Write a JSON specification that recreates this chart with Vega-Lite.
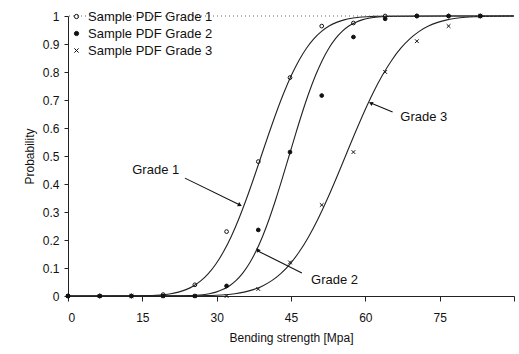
{
  "$schema": "https://vega.github.io/schema/vega-lite/v6.json",
  "width": 446,
  "height": 280,
  "autosize": {"type": "none"},
  "padding": {"left": 68, "top": 16, "right": 5, "bottom": 58},
  "background": "white",
  "config": {
    "view": {"stroke": null},
    "font": "Liberation Sans",
    "axis": {"grid": false, "domainColor": "#222", "tickColor": "#222", "labelColor": "#111", "titleColor": "#111", "labelFont": "Liberation Sans", "titleFont": "Liberation Sans", "labelFontSize": 12, "titleFontSize": 12, "titleFontWeight": "normal", "tickSize": 4, "domainWidth": 1, "labelOverlap": false},
    "legend": {"labelFont": "Liberation Sans", "labelFontSize": 13, "labelColor": "#111"}
  },
  "datasets": {
    "curves": [
      {"series": "Grade 1", "x": 0, "p": 0},
      {"series": "Grade 1", "x": 14.68, "p": 0.0007},
      {"series": "Grade 1", "x": 16.2, "p": 0.0013},
      {"series": "Grade 1", "x": 17.72, "p": 0.0026},
      {"series": "Grade 1", "x": 19.24, "p": 0.0047},
      {"series": "Grade 1", "x": 20.76, "p": 0.0082},
      {"series": "Grade 1", "x": 22.28, "p": 0.0139},
      {"series": "Grade 1", "x": 23.8, "p": 0.0228},
      {"series": "Grade 1", "x": 25.32, "p": 0.0359},
      {"series": "Grade 1", "x": 26.84, "p": 0.0548},
      {"series": "Grade 1", "x": 28.36, "p": 0.0808},
      {"series": "Grade 1", "x": 29.88, "p": 0.1151},
      {"series": "Grade 1", "x": 31.4, "p": 0.1587},
      {"series": "Grade 1", "x": 32.92, "p": 0.2119},
      {"series": "Grade 1", "x": 34.44, "p": 0.2743},
      {"series": "Grade 1", "x": 35.96, "p": 0.3446},
      {"series": "Grade 1", "x": 37.48, "p": 0.4207},
      {"series": "Grade 1", "x": 39, "p": 0.5},
      {"series": "Grade 1", "x": 40.52, "p": 0.5793},
      {"series": "Grade 1", "x": 42.04, "p": 0.6554},
      {"series": "Grade 1", "x": 43.56, "p": 0.7257},
      {"series": "Grade 1", "x": 45.08, "p": 0.7881},
      {"series": "Grade 1", "x": 46.6, "p": 0.8413},
      {"series": "Grade 1", "x": 48.12, "p": 0.8849},
      {"series": "Grade 1", "x": 49.64, "p": 0.9192},
      {"series": "Grade 1", "x": 51.16, "p": 0.9452},
      {"series": "Grade 1", "x": 52.68, "p": 0.9641},
      {"series": "Grade 1", "x": 54.2, "p": 0.9772},
      {"series": "Grade 1", "x": 55.72, "p": 0.9861},
      {"series": "Grade 1", "x": 57.24, "p": 0.9918},
      {"series": "Grade 1", "x": 58.76, "p": 0.9953},
      {"series": "Grade 1", "x": 60.28, "p": 0.9974},
      {"series": "Grade 1", "x": 61.8, "p": 0.9987},
      {"series": "Grade 1", "x": 63.32, "p": 0.9993},
      {"series": "Grade 1", "x": 90, "p": 1},
      {"series": "Grade 2", "x": 0, "p": 0},
      {"series": "Grade 2", "x": 23.16, "p": 0.0007},
      {"series": "Grade 2", "x": 24.5, "p": 0.0013},
      {"series": "Grade 2", "x": 25.84, "p": 0.0026},
      {"series": "Grade 2", "x": 27.18, "p": 0.0047},
      {"series": "Grade 2", "x": 28.52, "p": 0.0082},
      {"series": "Grade 2", "x": 29.86, "p": 0.0139},
      {"series": "Grade 2", "x": 31.2, "p": 0.0228},
      {"series": "Grade 2", "x": 32.54, "p": 0.0359},
      {"series": "Grade 2", "x": 33.88, "p": 0.0548},
      {"series": "Grade 2", "x": 35.22, "p": 0.0808},
      {"series": "Grade 2", "x": 36.56, "p": 0.1151},
      {"series": "Grade 2", "x": 37.9, "p": 0.1587},
      {"series": "Grade 2", "x": 39.24, "p": 0.2119},
      {"series": "Grade 2", "x": 40.58, "p": 0.2743},
      {"series": "Grade 2", "x": 41.92, "p": 0.3446},
      {"series": "Grade 2", "x": 43.26, "p": 0.4207},
      {"series": "Grade 2", "x": 44.6, "p": 0.5},
      {"series": "Grade 2", "x": 45.94, "p": 0.5793},
      {"series": "Grade 2", "x": 47.28, "p": 0.6554},
      {"series": "Grade 2", "x": 48.62, "p": 0.7257},
      {"series": "Grade 2", "x": 49.96, "p": 0.7881},
      {"series": "Grade 2", "x": 51.3, "p": 0.8413},
      {"series": "Grade 2", "x": 52.64, "p": 0.8849},
      {"series": "Grade 2", "x": 53.98, "p": 0.9192},
      {"series": "Grade 2", "x": 55.32, "p": 0.9452},
      {"series": "Grade 2", "x": 56.66, "p": 0.9641},
      {"series": "Grade 2", "x": 58, "p": 0.9772},
      {"series": "Grade 2", "x": 59.34, "p": 0.9861},
      {"series": "Grade 2", "x": 60.68, "p": 0.9918},
      {"series": "Grade 2", "x": 62.02, "p": 0.9953},
      {"series": "Grade 2", "x": 63.36, "p": 0.9974},
      {"series": "Grade 2", "x": 64.7, "p": 0.9987},
      {"series": "Grade 2", "x": 66.04, "p": 0.9993},
      {"series": "Grade 2", "x": 90, "p": 1},
      {"series": "Grade 3", "x": 0, "p": 0},
      {"series": "Grade 3", "x": 26.24, "p": 0.0007},
      {"series": "Grade 3", "x": 28.1, "p": 0.0013},
      {"series": "Grade 3", "x": 29.96, "p": 0.0026},
      {"series": "Grade 3", "x": 31.82, "p": 0.0047},
      {"series": "Grade 3", "x": 33.68, "p": 0.0082},
      {"series": "Grade 3", "x": 35.54, "p": 0.0139},
      {"series": "Grade 3", "x": 37.4, "p": 0.0228},
      {"series": "Grade 3", "x": 39.26, "p": 0.0359},
      {"series": "Grade 3", "x": 41.12, "p": 0.0548},
      {"series": "Grade 3", "x": 42.98, "p": 0.0808},
      {"series": "Grade 3", "x": 44.84, "p": 0.1151},
      {"series": "Grade 3", "x": 46.7, "p": 0.1587},
      {"series": "Grade 3", "x": 48.56, "p": 0.2119},
      {"series": "Grade 3", "x": 50.42, "p": 0.2743},
      {"series": "Grade 3", "x": 52.28, "p": 0.3446},
      {"series": "Grade 3", "x": 54.14, "p": 0.4207},
      {"series": "Grade 3", "x": 56, "p": 0.5},
      {"series": "Grade 3", "x": 57.86, "p": 0.5793},
      {"series": "Grade 3", "x": 59.72, "p": 0.6554},
      {"series": "Grade 3", "x": 61.58, "p": 0.7257},
      {"series": "Grade 3", "x": 63.44, "p": 0.7881},
      {"series": "Grade 3", "x": 65.3, "p": 0.8413},
      {"series": "Grade 3", "x": 67.16, "p": 0.8849},
      {"series": "Grade 3", "x": 69.02, "p": 0.9192},
      {"series": "Grade 3", "x": 70.88, "p": 0.9452},
      {"series": "Grade 3", "x": 72.74, "p": 0.9641},
      {"series": "Grade 3", "x": 74.6, "p": 0.9772},
      {"series": "Grade 3", "x": 76.46, "p": 0.9861},
      {"series": "Grade 3", "x": 78.32, "p": 0.9918},
      {"series": "Grade 3", "x": 80.18, "p": 0.9953},
      {"series": "Grade 3", "x": 82.04, "p": 0.9974},
      {"series": "Grade 3", "x": 83.9, "p": 0.9987},
      {"series": "Grade 3", "x": 85.76, "p": 0.9993},
      {"series": "Grade 3", "x": 90, "p": 1}
    ],
    "samples": [
      {"series": "Sample PDF Grade 1", "x": 0, "p": 0},
      {"series": "Sample PDF Grade 1", "x": 6.4, "p": 0},
      {"series": "Sample PDF Grade 1", "x": 12.8, "p": 0},
      {"series": "Sample PDF Grade 1", "x": 19.2, "p": 0.005},
      {"series": "Sample PDF Grade 1", "x": 25.6, "p": 0.04},
      {"series": "Sample PDF Grade 1", "x": 32, "p": 0.23},
      {"series": "Sample PDF Grade 1", "x": 38.4, "p": 0.48},
      {"series": "Sample PDF Grade 1", "x": 44.8, "p": 0.78},
      {"series": "Sample PDF Grade 1", "x": 51.2, "p": 0.964},
      {"series": "Sample PDF Grade 1", "x": 57.6, "p": 0.975},
      {"series": "Sample PDF Grade 1", "x": 64, "p": 1},
      {"series": "Sample PDF Grade 1", "x": 70.4, "p": 1},
      {"series": "Sample PDF Grade 1", "x": 76.8, "p": 1},
      {"series": "Sample PDF Grade 1", "x": 83.2, "p": 1},
      {"series": "Sample PDF Grade 2", "x": 0, "p": 0},
      {"series": "Sample PDF Grade 2", "x": 6.4, "p": 0},
      {"series": "Sample PDF Grade 2", "x": 12.8, "p": 0},
      {"series": "Sample PDF Grade 2", "x": 19.2, "p": 0},
      {"series": "Sample PDF Grade 2", "x": 25.6, "p": 0},
      {"series": "Sample PDF Grade 2", "x": 32, "p": 0.036},
      {"series": "Sample PDF Grade 2", "x": 38.4, "p": 0.236},
      {"series": "Sample PDF Grade 2", "x": 44.8, "p": 0.514},
      {"series": "Sample PDF Grade 2", "x": 51.2, "p": 0.716},
      {"series": "Sample PDF Grade 2", "x": 57.6, "p": 0.925},
      {"series": "Sample PDF Grade 2", "x": 64, "p": 0.99},
      {"series": "Sample PDF Grade 2", "x": 70.4, "p": 1},
      {"series": "Sample PDF Grade 2", "x": 76.8, "p": 1},
      {"series": "Sample PDF Grade 2", "x": 83.2, "p": 1},
      {"series": "Sample PDF Grade 3", "x": 0, "p": 0},
      {"series": "Sample PDF Grade 3", "x": 6.4, "p": 0},
      {"series": "Sample PDF Grade 3", "x": 12.8, "p": 0},
      {"series": "Sample PDF Grade 3", "x": 19.2, "p": 0},
      {"series": "Sample PDF Grade 3", "x": 25.6, "p": 0},
      {"series": "Sample PDF Grade 3", "x": 32, "p": 0},
      {"series": "Sample PDF Grade 3", "x": 38.4, "p": 0.025},
      {"series": "Sample PDF Grade 3", "x": 44.8, "p": 0.12},
      {"series": "Sample PDF Grade 3", "x": 51.2, "p": 0.325},
      {"series": "Sample PDF Grade 3", "x": 57.6, "p": 0.514},
      {"series": "Sample PDF Grade 3", "x": 64, "p": 0.8},
      {"series": "Sample PDF Grade 3", "x": 70.4, "p": 0.91},
      {"series": "Sample PDF Grade 3", "x": 76.8, "p": 0.964},
      {"series": "Sample PDF Grade 3", "x": 83.2, "p": 1}
    ],
    "notes": [
      {"label": "Grade 1", "tx": 17.7, "ty": 0.45, "x1": 23.6, "y1": 0.421, "x2": 34.7, "y2": 0.325},
      {"label": "Grade 2", "tx": 53.8, "ty": 0.057, "x1": 47.2, "y1": 0.082, "x2": 38.3, "y2": 0.161},
      {"label": "Grade 3", "tx": 71.8, "ty": 0.639, "x1": 65.5, "y1": 0.657, "x2": 61.1, "y2": 0.689}
    ],
    "top": [{"p": 1}]
  },
  "layer": [
    {
      "data": {"name": "curves"},
      "mark": {"type": "line", "color": "#222", "strokeWidth": 1.1, "interpolate": "monotone"},
      "encoding": {
        "x": {"field": "x", "type": "quantitative", "title": "Bending strength [Mpa]", "scale": {"domain": [0, 90], "nice": false},
          "axis": {"values": [0, 7.5, 15, 22.5, 30, 37.5, 45, 52.5, 60, 67.5, 75, 82.5, 90], "labelOverlap": false, "labelExpr": "datum.value % 15 === 0 && datum.value < 90 ? datum.label : ''", "tickSize": 5, "labelPadding": 11, "titlePadding": 9}},
        "y": {"field": "p", "type": "quantitative", "title": "Probability", "scale": {"domain": [0, 1], "nice": false},
          "axis": {"values": [0, 0.1, 0.2, 0.3, 0.4, 0.5, 0.6, 0.7, 0.8, 0.9, 1], "tickCount": 11, "labelOverlap": false, "labelExpr": "format(datum.value, '~g')", "tickSize": 4, "labelPadding": 5, "titlePadding": 6}},
        "detail": {"field": "series"}
      }
    },
    {
      "data": {"name": "top"},
      "mark": {"type": "rule", "color": "#666", "strokeDash": [1, 3], "strokeWidth": 1},
      "encoding": {
        "y": {"field": "p", "type": "quantitative", "title": "Probability",
          "axis": {"values": [0, 0.1, 0.2, 0.3, 0.4, 0.5, 0.6, 0.7, 0.8, 0.9, 1], "tickCount": 11, "labelOverlap": false, "labelExpr": "format(datum.value, '~g')", "tickSize": 4, "labelPadding": 5, "titlePadding": 6}}
      }
    },
    {
      "data": {"name": "samples"},
      "mark": {"type": "point", "filled": false, "strokeWidth": 1, "opacity": 1},
      "encoding": {
        "x": {"field": "x", "type": "quantitative", "title": "Bending strength [Mpa]"},
        "y": {"field": "p", "type": "quantitative", "title": "Probability",
          "axis": {"values": [0, 0.1, 0.2, 0.3, 0.4, 0.5, 0.6, 0.7, 0.8, 0.9, 1], "tickCount": 11, "labelOverlap": false, "labelExpr": "format(datum.value, '~g')", "tickSize": 4, "labelPadding": 5, "titlePadding": 6}},
        "shape": {"field": "series", "type": "nominal", "title": null,
          "scale": {"domain": ["Sample PDF Grade 1", "Sample PDF Grade 2", "Sample PDF Grade 3"], "range": ["circle", "circle", "M-1,-1L1,1M1,-1L-1,1"]},
          "legend": {"orient": "none", "legendX": 2, "legendY": -6, "padding": 0, "rowPadding": 3, "symbolSize": 18, "labelOffset": 5, "symbolStrokeWidth": 1}},
        "fill": {"field": "series", "type": "nominal", "title": null,
          "scale": {"domain": ["Sample PDF Grade 1", "Sample PDF Grade 2", "Sample PDF Grade 3"], "range": ["transparent", "#111", "transparent"]}},
        "stroke": {"field": "series", "type": "nominal", "title": null,
          "scale": {"domain": ["Sample PDF Grade 1", "Sample PDF Grade 2", "Sample PDF Grade 3"], "range": ["#111", "#111", "#111"]}},
        "size": {"value": 14}
      }
    },
    {
      "data": {"name": "notes"},
      "mark": {"type": "rule", "color": "#111", "strokeWidth": 1.1},
      "encoding": {
        "x": {"field": "x1", "type": "quantitative", "title": "Bending strength [Mpa]"},
        "y": {"field": "y1", "type": "quantitative", "title": "Probability",
          "axis": {"values": [0, 0.1, 0.2, 0.3, 0.4, 0.5, 0.6, 0.7, 0.8, 0.9, 1], "tickCount": 11, "labelOverlap": false, "labelExpr": "format(datum.value, '~g')", "tickSize": 4, "labelPadding": 5, "titlePadding": 6}},
        "x2": {"field": "x2"},
        "y2": {"field": "y2"}
      }
    },
    {
      "data": {"name": "notes"},
      "mark": {"type": "point", "shape": "triangle-up", "filled": true, "color": "#111", "size": 22, "opacity": 1},
      "encoding": {
        "x": {"field": "x2", "type": "quantitative", "title": "Bending strength [Mpa]"},
        "y": {"field": "y2", "type": "quantitative", "title": "Probability",
          "axis": {"values": [0, 0.1, 0.2, 0.3, 0.4, 0.5, 0.6, 0.7, 0.8, 0.9, 1], "tickCount": 11, "labelOverlap": false, "labelExpr": "format(datum.value, '~g')", "tickSize": 4, "labelPadding": 5, "titlePadding": 6}},
        "angle": {"field": "label", "type": "nominal", "legend": null, "scale": {"domain": ["Grade 1", "Grade 2", "Grade 3"], "range": [116, 297, 292]}}
      }
    },
    {
      "data": {"name": "notes"},
      "mark": {"type": "text", "font": "Liberation Sans", "fontSize": 13, "color": "#111", "align": "center", "baseline": "middle"},
      "encoding": {
        "x": {"field": "tx", "type": "quantitative", "title": "Bending strength [Mpa]"},
        "y": {"field": "ty", "type": "quantitative", "title": "Probability",
          "axis": {"values": [0, 0.1, 0.2, 0.3, 0.4, 0.5, 0.6, 0.7, 0.8, 0.9, 1], "tickCount": 11, "labelOverlap": false, "labelExpr": "format(datum.value, '~g')", "tickSize": 4, "labelPadding": 5, "titlePadding": 6}},
        "text": {"field": "label"}
      }
    }
  ]
}
